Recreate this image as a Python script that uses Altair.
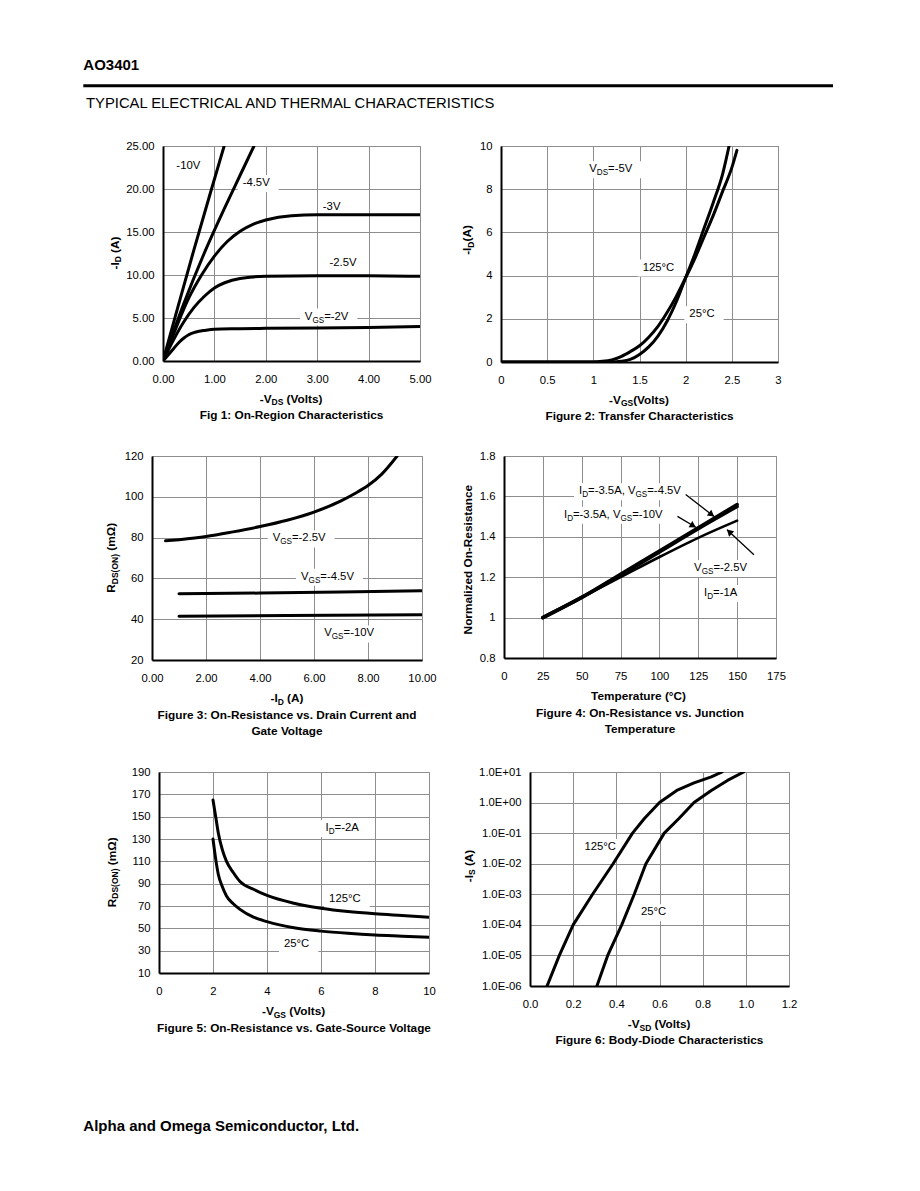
import math
import pandas as pd
import altair as alt

FONT = "Liberation Sans"
GRID = "#8e8e8e"
FRAME = "#8e8e8e"
FS = 11.3      # tick labels and annotations
FT = 11.8      # bold axis titles / captions
SUBR = 0.72    # subscript scale

# ======================= DATA =======================
# Fig 1: On-Region Characteristics  (-VDS [V] -> -ID [A])
F1_10V_X = [0, 0.3, 0.6, 0.9, 1.19]
F1_10V_Y = [0, 6.5, 12.9, 19.1, 25.0]
F1_45V_X = [0, 0.4, 0.8, 1.2, 1.5, 1.77]
F1_45V_Y = [0, 6.6, 12.5, 17.8, 21.6, 25.0]
F1_3V_X = [0, 0.25, 0.5, 0.75, 1.0, 1.25, 1.5, 1.75, 2.0, 2.5, 3.0, 4.0, 5.0]
F1_3V_Y = [0, 3.8, 7.3, 10.0, 12.2, 13.9, 15.1, 15.9, 16.4, 16.9, 17.0, 17.0, 17.0]
F1_25V_X = [0, 0.2, 0.4, 0.6, 0.8, 1.0, 1.2, 1.5, 2.0, 3.0, 4.0, 5.0]
F1_25V_Y = [0, 2.4, 4.5, 6.2, 7.5, 8.5, 9.1, 9.6, 9.85, 9.9, 9.9, 9.85]
F1_2V_X = [0, 0.1, 0.2, 0.3, 0.4, 0.5, 0.6, 0.7, 0.8, 1.0, 1.5, 2.0, 3.0, 4.0, 5.0]
F1_2V_Y = [0, 0.7, 1.4, 2.1, 2.65, 3.05, 3.3, 3.45, 3.55, 3.7, 3.75, 3.8, 3.85, 3.9, 4.0]
F1_XTICKS = [0, 1, 2, 3, 4, 5]
F1_YTICKS = [0, 5, 10, 15, 20, 25]

# Fig 2: Transfer Characteristics (-VGS [V] -> -ID [A])
F2_125_X = [0, 1.0, 1.1, 1.2, 1.3, 1.4, 1.5, 1.6, 1.7, 1.8, 1.9, 2.0, 2.1, 2.2, 2.3, 2.4, 2.5, 2.555]
F2_125_Y = [0, 0, 0.03, 0.1, 0.25, 0.48, 0.75, 1.15, 1.65, 2.3, 3.05, 3.9, 4.8, 5.8, 6.8, 7.9, 9.0, 9.8]
F2_25_X = [0, 1.2, 1.3, 1.4, 1.5, 1.6, 1.7, 1.8, 1.9, 2.0, 2.1, 2.2, 2.3, 2.4, 2.47]
F2_25_Y = [0, 0, 0.03, 0.12, 0.35, 0.7, 1.2, 1.9, 2.8, 3.9, 5.0, 6.2, 7.4, 8.7, 10.0]
F2_XTICKS = [0, 0.5, 1, 1.5, 2, 2.5, 3]
F2_YTICKS = [0, 2, 4, 6, 8, 10]

# Fig 3: On-Resistance vs Drain Current (-ID [A] -> RDS(ON) [mOhm])
F3_25_X = [0.5, 1, 2, 3, 4, 5, 6, 7, 7.5, 8, 8.5, 9.08]
F3_25_Y = [78.4, 79, 80.5, 82.8, 85.4, 88.5, 92.5, 98, 101.5, 105.5, 111, 120]
F3_45_X = [1, 4, 7, 10]
F3_45_Y = [52.5, 52.8, 53.3, 54.0]
F3_10_X = [1, 5, 10]
F3_10_Y = [41.5, 41.8, 42.2]
F3_XTICKS = [0, 2, 4, 6, 8, 10]
F3_YTICKS = [20, 40, 60, 80, 100, 120]

# Fig 4: Normalized On-Resistance vs Temperature
F4_T = [25, 50, 75, 100, 125, 150]
F4_45 = [1.0, 1.1, 1.215, 1.33, 1.445, 1.56]
F4_10 = [1.0, 1.1, 1.21, 1.325, 1.44, 1.55]
F4_25 = [1.0, 1.1, 1.2, 1.3, 1.395, 1.48]
F4_XTICKS = [0, 25, 50, 75, 100, 125, 150, 175]
F4_YTICKS = [0.8, 1.0, 1.2, 1.4, 1.6, 1.8]

# Fig 5: On-Resistance vs Gate-Source Voltage
F5_125_X = [2.0, 2.1, 2.2, 2.35, 2.5, 2.75, 3.0, 3.5, 4.0, 5.0, 6.0, 7.0, 8.0, 9.0, 10.0]
F5_125_Y = [165, 150, 135, 120, 110, 100, 92, 85, 79.5, 72.5, 68, 65, 63, 61.5, 60]
F5_25_X = [2.0, 2.1, 2.2, 2.35, 2.5, 2.75, 3.0, 3.5, 4.0, 5.0, 6.0, 7.0, 8.0, 9.0, 10.0]
F5_25_Y = [130, 112, 98, 87, 79, 72, 67, 60, 56, 50.5, 47.5, 45.5, 44, 43, 42]
F5_XTICKS = [0, 2, 4, 6, 8, 10]
F5_YTICKS = [10, 30, 50, 70, 90, 110, 130, 150, 170, 190]

# Fig 6: Body-Diode Characteristics (-VSD [V] -> -IS [A], log)
F6_125_X = [0.079, 0.136, 0.2, 0.29, 0.385, 0.475, 0.53, 0.6, 0.68, 0.76, 0.84, 0.89]
F6_125_Y = [1e-6, 1e-5, 1e-4, 1e-3, 1e-2, 0.1, 0.3, 1.0, 2.5, 4.4, 6.9, 10.0]
F6_25_X = [0.31, 0.36, 0.425, 0.483, 0.537, 0.622, 0.69, 0.76, 0.84, 0.915, 0.99]
F6_25_Y = [1e-6, 1e-5, 1e-4, 1e-3, 1e-2, 0.1, 0.3, 1.0, 2.5, 5.3, 10.0]
F6_XTICKS = [0, 0.2, 0.4, 0.6, 0.8, 1.0, 1.2]
F6_YTICKS = [1e-6, 1e-5, 1e-4, 1e-3, 1e-2, 1e-1, 1e0, 1e1]

# ======================= HELPERS =======================
REG_W = {" ": 278, "-": 333, "(": 333, ")": 333, ".": 278, ",": 278, "=": 584, "°": 400,
         "A": 667, "C": 722, "D": 722, "G": 778, "I": 278, "N": 722, "O": 778, "R": 722,
         "S": 667, "V": 667, "l": 222, "m": 833, "o": 556, "s": 500, "t": 278, "Ω": 768}
BOLD_W = {" ": 278, "-": 333, "(": 333, ")": 333, ".": 278, ",": 278, "=": 584, "°": 400,
          "A": 722, "C": 722, "D": 722, "G": 778, "I": 278, "N": 722, "O": 778, "R": 722,
          "S": 667, "V": 667, "l": 278, "m": 889, "o": 611, "s": 556, "t": 333, "Ω": 768}

ONE = pd.DataFrame({"k": [0]})
PLAIN = "'' + datum.value"


def tw(s, size, bold):
    t = BOLD_W if bold else REG_W
    return sum(t.get(c, 556) for c in s) * size / 1000.0


def split_lead(t, size, bold):
    st = t.lstrip(" ")
    return st, tw(t[:len(t) - len(st)], size, bold)


def text_px(text, x, y, size, bold=False, align="left", angle=0):
    return alt.Chart(ONE).mark_text(
        text=text, align=align, baseline="alphabetic", angle=angle, font=FONT,
        fontSize=size, fontWeight="bold" if bold else "normal", color="black"
    ).encode(x=alt.value(x), y=alt.value(y))


def rich(parts, x, y, size, bold, vertical=False):
    sizes = [size * SUBR if s else size for _, s in parts]
    widths = [tw(t, fs, bold) for (t, _), fs in zip(parts, sizes)]
    total = sum(widths)
    out, cum = [], 0.0
    for (t, s), fs, w in zip(parts, sizes, widths):
        off = 2.5 if s else 0.0
        st, lead = split_lead(t, fs, bold)
        if vertical:
            out.append(text_px(st, x + off, y + total / 2 - cum - lead, fs, bold, angle=270))
        else:
            out.append(text_px(st, x - total / 2 + cum + lead, y + off, fs, bold))
        cum += w
    return out


def ann_layers(parts, x, y, X, Y):
    df = pd.DataFrame({"x": [x], "y": [y]})
    out, cum = [], 0.0
    for t, s in parts:
        fs = FS * SUBR if s else FS
        st, lead = split_lead(t, fs, False)
        out.append(alt.Chart(df).mark_text(
            text=st, align="left", baseline="middle", dx=cum + lead, dy=(4 if s else 0),
            font=FONT, fontSize=fs, color="black").encode(x=X, y=Y))
        cum += tw(t, fs, False)
    return out, cum


def mk_axis(values, fmt=None, expr=None, pad=9):
    kw = dict(values=values, title=None, grid=True, gridColor=GRID, gridWidth=1,
              domain=True, domainColor="black", domainWidth=2, ticks=False, tickSize=0,
              labelFont=FONT, labelFontSize=FS, labelColor="black", labelPadding=pad,
              labelFlush=False, labelOverlap=False, labelBound=False)
    if fmt:
        kw["format"] = fmt
    if expr:
        kw["labelExpr"] = expr
    return alt.Axis(**kw)


def panel(w, h, xdom, ydom, xaxis, yaxis, series, labels, xtitle, xt_y, captions,
          ytitle, yt_x, yt_y, arrows=(), ylog=False, interp="monotone"):
    xs = alt.Scale(domain=xdom, nice=False, zero=False)
    if ylog:
        ys = alt.Scale(type="log", domain=ydom, nice=False)
    else:
        ys = alt.Scale(domain=ydom, nice=False, zero=False)
    X = alt.X("x:Q", scale=xs, axis=xaxis)
    Y = alt.Y("y:Q", scale=ys, axis=yaxis)
    ppx = w / (xdom[1] - xdom[0])
    if ylog:
        ppd = h / (math.log10(ydom[1]) - math.log10(ydom[0]))
        ppy = None

        def yoff(v, px):
            return v * 10 ** (px / ppd)
    else:
        ppy = h / (ydom[1] - ydom[0])

        def yoff(v, px):
            return v + px / ppy

    layers, boxes, texts = [], [], []
    for parts, lx, ly, boxed in labels:
        lay, width = ann_layers(parts, lx, ly, X, Y)
        texts += lay
        if boxed:
            boxes.append({"x": lx - 5 / ppx, "x2": lx + (width + 9) / ppx,
                          "y": yoff(ly, -9), "y2": yoff(ly, 8)})
    if boxes:
        layers.append(alt.Chart(pd.DataFrame(boxes)).mark_rect(color="white").encode(
            x=X, x2=alt.X2("x2"), y=Y, y2=alt.Y2("y2")))
    for sx, sy, sw in series:
        df = pd.DataFrame({"x": sx, "y": sy, "o": list(range(len(sx)))})
        layers.append(alt.Chart(df).mark_line(
            color="black", strokeWidth=sw, clip=True, strokeJoin="round", strokeCap="round",
            interpolate=interp
        ).encode(x=X, y=Y, order="o:Q"))
    for x1, y1, x2, y2 in arrows:
        df = pd.DataFrame({"x": [x1], "y": [y1], "x2": [x2], "y2": [y2]})
        layers.append(alt.Chart(df).mark_rule(color="black", strokeWidth=1.3).encode(
            x=X, y=Y, x2=alt.X2("x2"), y2=alt.Y2("y2")))
        dxp = (x2 - x1) * ppx
        dyp = -(y2 - y1) * ppy
        L = math.hypot(dxp, dyp)
        ux, uy = dxp / L, dyp / L
        ang = math.degrees(math.atan2(dxp, -dyp)) % 360
        hx = x2 - 3 * ux / ppx
        hy = y2 + 3 * uy / ppy
        layers.append(alt.Chart(pd.DataFrame({"x": [hx], "y": [hy]})).mark_point(
            shape="triangle-up", filled=True, color="black", size=55, opacity=1, angle=ang
        ).encode(x=X, y=Y))
    layers += texts
    layers += rich(xtitle, w / 2, xt_y, FT, True)
    for ctext, cy in captions:
        layers.append(text_px(ctext, w / 2, cy, FT, True, align="center"))
    layers += rich(ytitle, yt_x, yt_y, FT, True, vertical=True)
    return alt.layer(*layers).properties(
        width=w, height=h, view=alt.ViewBackground(stroke=FRAME, strokeWidth=1))


def frame_spacer(w, y1, y2, extra=()):
    # invisible block that fixes the extent of a row in the page layout
    base = alt.Chart(ONE).mark_rect(opacity=0).encode(
        x=alt.value(0), x2=alt.value(w), y=alt.value(y1), y2=alt.value(y2))
    ch = alt.layer(base, *extra) if extra else base
    return ch.properties(width=w, height=1, view=alt.ViewBackground(stroke="transparent"))


N = False
S = True

# ======================= PANELS =======================
fig1 = panel(
    257, 215, [0, 5], [0, 25],
    mk_axis(F1_XTICKS, ".2f", pad=12), mk_axis(F1_YTICKS, ".2f"),
    [(F1_10V_X, F1_10V_Y, 3), (F1_45V_X, F1_45V_Y, 3), (F1_3V_X, F1_3V_Y, 3),
     (F1_25V_X, F1_25V_Y, 3), (F1_2V_X, F1_2V_Y, 3)],
    [([("-10V", N)], 0.26, 22.7, False),
     ([("-4.5V", N)], 1.55, 20.7, True),
     ([("-3V", N)], 3.11, 17.9, False),
     ([("-2.5V", N)], 3.24, 11.4, False),
     ([("V", N), ("GS", S), ("=-2V", N)], 2.76, 5.17, True)],
    [("-V", N), ("DS", S), (" (Volts)", N)], 256.5,
    [("Fig 1: On-Region Characteristics", 273)],
    [("-I", N), ("D", S), (" (A)", N)], -44.5, 107)

fig2 = panel(
    277, 216, [0, 3], [0, 10],
    mk_axis(F2_XTICKS, expr=PLAIN, pad=12), mk_axis(F2_YTICKS, expr=PLAIN),
    [(F2_125_X, F2_125_Y, 3), (F2_25_X, F2_25_Y, 3)],
    [([("V", N), ("DS", S), ("=-5V", N)], 0.956, 8.92, True),
     ([("125°C", N)], 1.535, 4.37, True),
     ([("25°C", N)], 2.04, 2.21, True)],
    [("-V", N), ("GS", S), ("(Volts)", N)], 257.5,
    [("Figure 2: Transfer Characteristics", 274)],
    [("-I", N), ("D", S), ("(A)", N)], -30, 94)

fig3 = panel(
    270, 204, [0, 10], [20, 120],
    mk_axis(F3_XTICKS, ".2f", pad=12), mk_axis(F3_YTICKS, expr=PLAIN),
    [(F3_25_X, F3_25_Y, 3), (F3_45_X, F3_45_Y, 3), (F3_10_X, F3_10_Y, 3)],
    [([("V", N), ("GS", S), ("=-2.5V", N)], 4.47, 79.6, True),
     ([("V", N), ("GS", S), ("=-4.5V", N)], 5.52, 60.8, True),
     ([("V", N), ("GS", S), ("=-10V", N)], 6.38, 33.0, True)],
    [("-I", N), ("D", S), (" (A)", N)], 246,
    [("Figure 3: On-Resistance vs. Drain Current and", 263), ("Gate Voltage", 279)],
    [("R", N), ("DS(ON)", S), (" (mΩ)", N)], -37, 102)

fig4 = panel(
    272, 202, [0, 175], [0.8, 1.8],
    mk_axis(F4_XTICKS, expr=PLAIN, pad=12), mk_axis(F4_YTICKS, expr=PLAIN),
    [(F4_T, F4_45, 3.5), (F4_T, F4_10, 3.5), (F4_T, F4_25, 2.6)],
    [([("I", N), ("D", S), ("=-3.5A, V", N), ("GS", S), ("=-4.5V", N)], 48.3, 1.625, True),
     ([("I", N), ("D", S), ("=-3.5A, V", N), ("GS", S), ("=-10V", N)], 38.6, 1.509, True),
     ([("V", N), ("GS", S), ("=-2.5V", N)], 122.3, 1.246, True),
     ([("I", N), ("D", S), ("=-1A", N)], 128.7, 1.122, True)],
    [("Temperature (°C)", N)], 244,
    [("Figure 4: On-Resistance vs. Junction", 261), ("Temperature", 277)],
    [("Normalized On-Resistance", N)], -31.6, 100,
    arrows=[(116.9, 1.609, 135.1, 1.501), (111.6, 1.501, 123.4, 1.447),
            (160.8, 1.311, 143.5, 1.435)])

fig5 = panel(
    270, 201, [0, 10], [10, 190],
    mk_axis(F5_XTICKS, expr=PLAIN, pad=12), mk_axis(F5_YTICKS, expr=PLAIN),
    [(F5_125_X, F5_125_Y, 3), (F5_25_X, F5_25_Y, 3)],
    [([("I", N), ("D", S), ("=-2A", N)], 6.17, 139.8, True),
     ([("125°C", N)], 6.3, 76.2, True),
     ([("25°C", N)], 4.63, 36.0, True)],
    [("-V", N), ("GS", S), (" (Volts)", N)], 243,
    [("Figure 5: On-Resistance vs. Gate-Source Voltage", 260)],
    [("R", N), ("DS(ON)", S), (" (mΩ)", N)], -43.3, 100.5)

E_EXPR = ("'1.0E' + (round(log(datum.value)/LN10) < 0 ? '-' : '+') + '0' + "
          "abs(round(log(datum.value)/LN10))")
fig6 = panel(
    259, 214, [0, 1.2], [1e-6, 10],
    mk_axis(F6_XTICKS, ".1f", pad=12), mk_axis(F6_YTICKS, expr=E_EXPR),
    [(F6_125_X, F6_125_Y, 3), (F6_25_X, F6_25_Y, 3)],
    [([("125°C", N)], 0.252, 0.0355, True),
     ([("25°C", N)], 0.514, 2.6e-4, True)],
    [("-V", N), ("SD", S), (" (Volts)", N)], 256,
    [("Figure 6: Body-Diode Characteristics", 272)],
    [("-I", N), ("S", S), (" (A)", N)], -57.3, 94,
    ylog=True, interp="linear")

header_marks = [
    text_px("AO3401", 74.3, 61.3, 15, True),
    alt.Chart(ONE).mark_rule(color="black", strokeWidth=3).encode(
        x=alt.value(74.3), x2=alt.value(824), y=alt.value(76.7)),
    text_px("TYPICAL ELECTRICAL AND THERMAL CHARACTERISTICS", 77, 99.3, 14.8, False),
]
footer_marks = [text_px("Alpha and Omega Semiconductor, Ltd.", 74.3, 358.7, 15, True)]

header = frame_spacer(824, 0, 115, header_marks)
row1 = alt.hconcat(frame_spacer(154, -20, 288), fig1, frame_spacer(81, 0, 1), fig2,
                   spacing=0, bounds="flush")
row2 = alt.hconcat(frame_spacer(143, -20, 294), fig3, frame_spacer(82, 0, 1), fig4,
                   spacing=0, bounds="flush")
row3 = alt.hconcat(frame_spacer(150, -20, 370, footer_marks), fig5, frame_spacer(101, 0, 1), fig6,
                   spacing=0, bounds="flush")

chart = alt.vconcat(header, row1, row2, row3, spacing=0).properties(padding=0)

chart.save("out.html", embed_options={"renderer": "svg", "actions": False})
